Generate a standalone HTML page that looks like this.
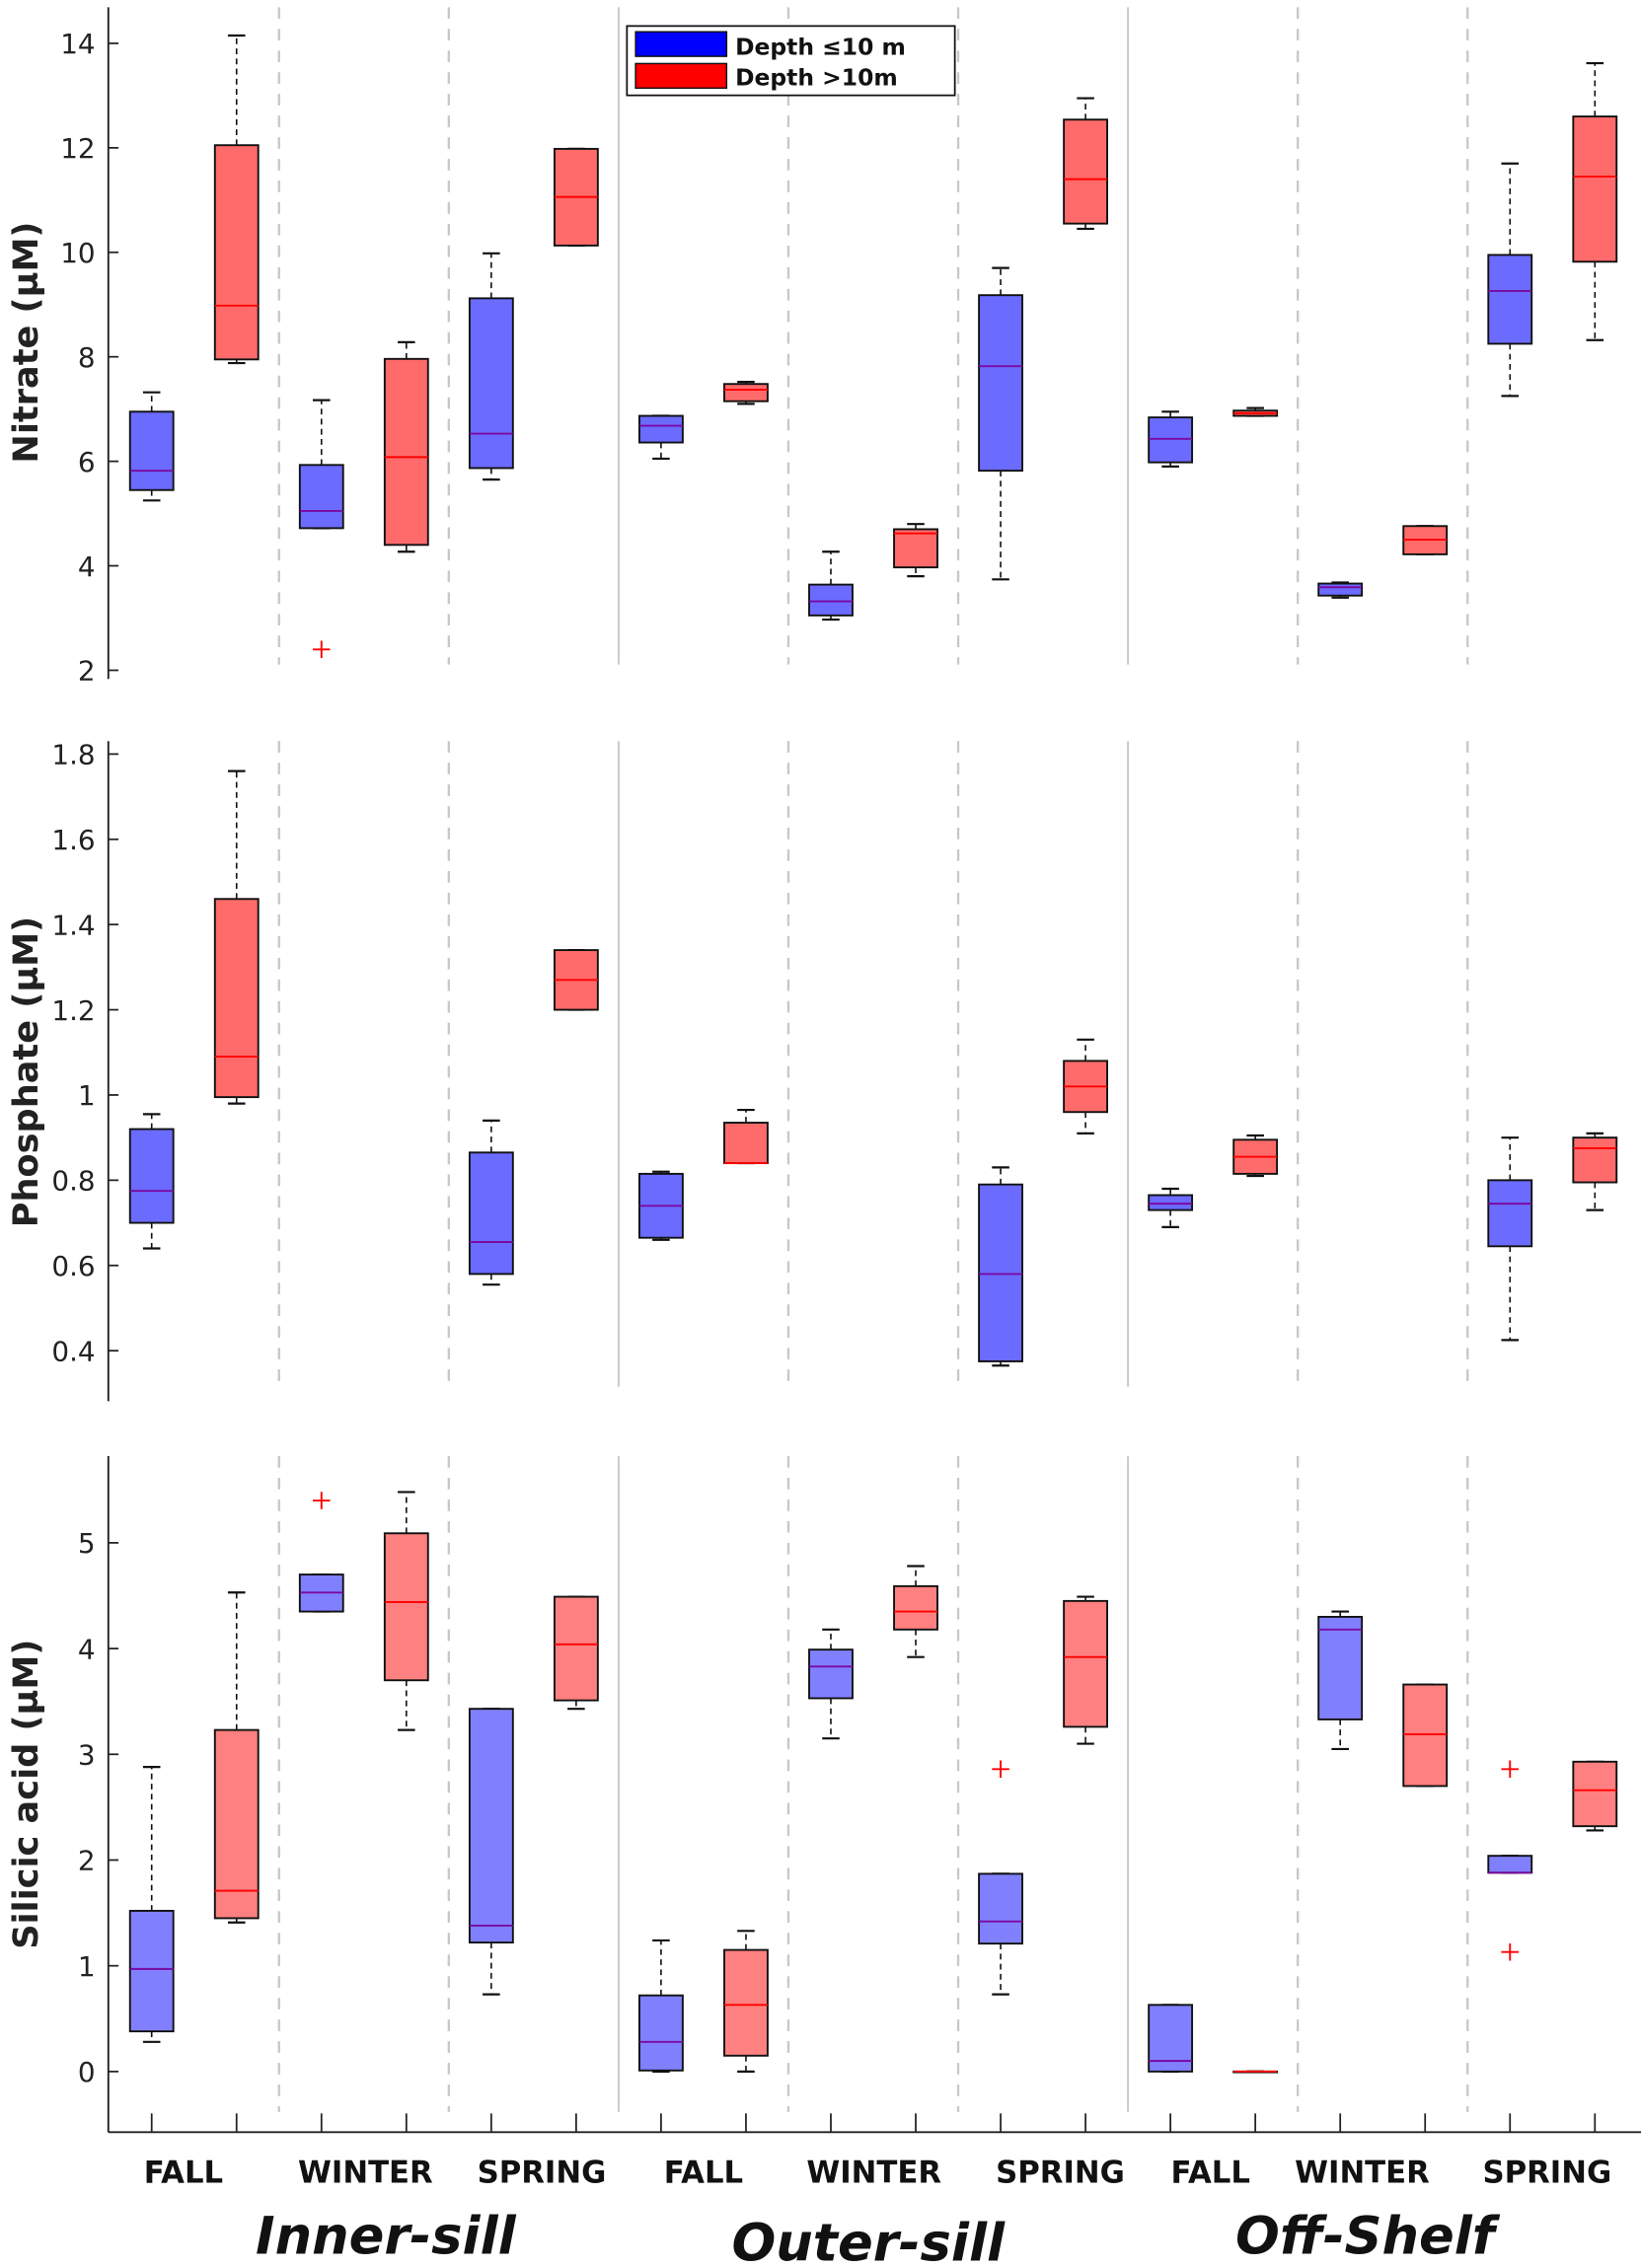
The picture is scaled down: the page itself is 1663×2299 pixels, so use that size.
<!DOCTYPE html>
<html><head><meta charset="utf-8">
<style>
html,body{margin:0;padding:0;background:#fff;}
svg{display:block;font-family:"DejaVu Sans","Liberation Sans",sans-serif;}
</style></head>
<body>
<svg id="chart" width="1663" height="2299" viewBox="0 0 1136 1570" preserveAspectRatio="none" xmlns="http://www.w3.org/2000/svg">
</svg>
<script>
// categories: 18 boxes (site x season x depth)
const sites = ["Inner-sill","Outer-sill","Off-Shelf"];
const seasons = ["FALL","WINTER","SPRING"];
const depths = ["shallow","deep"];
// [min, q1, median, q3, max] per box; null = no data
const nitrateStats = [
 [5.25,5.45,5.82,6.95,7.32],[7.88,7.95,8.98,12.05,14.15],
 [4.72,4.72,5.05,5.93,7.17],[4.27,4.4,6.08,7.96,8.28],
 [5.65,5.87,6.53,9.12,9.98],[10.13,10.13,11.06,11.98,11.98],
 [6.05,6.36,6.68,6.87,6.87],[7.1,7.15,7.37,7.48,7.52],
 [2.97,3.05,3.32,3.64,4.27],[3.8,3.97,4.62,4.7,4.8],
 [3.74,5.82,7.82,9.18,9.7],[10.45,10.55,11.4,12.54,12.95],
 [5.9,5.98,6.43,6.84,6.95],[6.87,6.87,6.92,6.97,7.02],
 [3.39,3.43,3.59,3.66,3.68],[4.22,4.22,4.5,4.76,4.76],
 [7.25,8.25,9.26,9.95,11.7],[8.32,9.82,11.45,12.6,13.62]];
const nitrateOutliers = [[],[],[2.4],[],[],[],[],[],[],[],[],[],[],[],[],[],[],[]];
const phosphateStats = [
 [0.64,0.70,0.775,0.92,0.955],[0.98,0.995,1.09,1.46,1.76],
 null,null,
 [0.555,0.58,0.655,0.865,0.94],[1.2,1.2,1.27,1.34,1.34],
 [0.66,0.665,0.74,0.815,0.82],[0.84,0.84,0.84,0.935,0.965],
 null,null,
 [0.365,0.375,0.58,0.79,0.83],[0.91,0.96,1.02,1.08,1.13],
 [0.69,0.73,0.745,0.765,0.78],[0.81,0.815,0.855,0.895,0.905],
 null,null,
 [0.425,0.645,0.745,0.8,0.9],[0.73,0.795,0.875,0.9,0.91]];
const phosphateOutliers = [[],[],[],[],[],[],[],[],[],[],[],[],[],[],[],[],[],[]];
const silicicStats = [
 [0.28,0.38,0.97,1.52,2.88],[1.41,1.45,1.71,3.23,4.53],
 [4.35,4.35,4.53,4.7,4.7],[3.23,3.7,4.44,5.09,5.48],
 [0.73,1.22,1.38,3.43,3.43],[3.43,3.51,4.04,4.49,4.49],
 [0,0.01,0.28,0.72,1.24],[0,0.15,0.63,1.15,1.33],
 [3.15,3.53,3.83,3.99,4.18],[3.92,4.18,4.35,4.59,4.78],
 [0.73,1.21,1.42,1.87,1.87],[3.1,3.26,3.92,4.45,4.49],
 [0,0,0.1,0.63,0.63],[0,0,0,0,0],
 [3.05,3.33,4.18,4.3,4.35],[2.7,2.7,3.19,3.66,3.66],
 [1.88,1.88,1.88,2.04,2.04],[2.28,2.32,2.66,2.93,2.93]];
const silicicOutliers = [[],[],[5.4],[],[],[],[],[],[],[],[2.86],[],[],[],[],[],[2.86,1.13],[]];
const nitrateTicks = [2,4,6,8,10,12,14];
const phosphateTicks = [0.4,0.6,0.8,1,1.2,1.4,1.6,1.8];
const silicicTicks = [0,1,2,3,4,5];

const NS="http://www.w3.org/2000/svg";
const svg=document.getElementById('chart');
function el(tag,attrs,parent){const e=document.createElementNS(NS,tag);for(const k in attrs)e.setAttribute(k,attrs[k]);(parent||svg).appendChild(e);return e;}

const X0=105, DX=58.77, HW=15;
function xPos(i){return X0+i*DX;}

const panels=[
 {name:'nitrate',stats:nitrateStats,out:nitrateOutliers,ticks:nitrateTicks,fmt:v=>String(v),v0:2,y0:464,v1:14,y1:30,top:5,bot:470,label:'Nitrate (µM)',ly:237,blue:'#6b6bff',red:'#ff6b6b'},
 {name:'phosphate',stats:phosphateStats,out:phosphateOutliers,ticks:phosphateTicks,fmt:v=>String(v),v0:0.4,y0:935,v1:1.8,y1:522,top:513,bot:970,label:'Phosphate (µM)',ly:742,blue:'#6b6bff',red:'#ff6b6b'},
 {name:'silicic',stats:silicicStats,out:silicicOutliers,ticks:silicicTicks,fmt:v=>String(v),v0:0,y0:1434,v1:5,y1:1068,top:1008,bot:1476,label:'Silicic acid (µM)',ly:1242,blue:'#8080ff',red:'#ff8080'}
];

panels.forEach((p,pi)=>{
  const g=el('g',{});
  
  
  const y=v=>p.y0+(v-p.v0)*(p.y1-p.y0)/(p.v1-p.v0);
  // dividers
  for(let k=1;k<9;k++){
    const xm=(xPos(2*k-1)+xPos(2*k))/2;
    const solid=(k%3===0);
    const ln=el('line',{x1:xm,x2:xm,y1:p.top,y2:(pi===2?1462:p.bot-10),stroke:'#c8c8c8','stroke-width':solid?1.3:1.6,'stroke-dasharray':solid?'none':'8,7'},g);
    
    
  }
  // y axis
  const ax=el('line',{x1:75,x2:75,y1:p.top,y2:p.bot,stroke:'#222','stroke-width':1.3},g);
  
  
  p.ticks.forEach(t=>{
    const ty=y(t);
    el('line',{x1:75,x2:82,y1:ty,y2:ty,stroke:'#222','stroke-width':1.2},g);
    const tx=el('text',{x:66,y:ty+7,'text-anchor':'end','font-size':19,fill:'#222'},g);
    tx.textContent=p.fmt(t);
    
    
  });
  const lab=el('text',{x:0,y:0,transform:`translate(26,${p.ly}) rotate(-90)`,'text-anchor':'middle','font-size':24,'font-weight':'bold',fill:'#222'},g);
  lab.textContent=p.label;
  
  
  // boxes
  p.stats.forEach((s,i)=>{
    const cx=xPos(i);
    const deep=i%2===1;
    if(s){
      const [mn,q1,md,q3,mx]=s;
      const bg=el('g',{},g);
      
      
      el('line',{x1:cx,x2:cx,y1:y(q3),y2:y(mx),stroke:'#111','stroke-width':1.1,'stroke-dasharray':'4,3'},bg);
      el('line',{x1:cx,x2:cx,y1:y(q1),y2:y(mn),stroke:'#111','stroke-width':1.1,'stroke-dasharray':'4,3'},bg);
      el('line',{x1:cx-6,x2:cx+6,y1:y(mx),y2:y(mx),stroke:'#111','stroke-width':1.5},bg);
      el('line',{x1:cx-6,x2:cx+6,y1:y(mn),y2:y(mn),stroke:'#111','stroke-width':1.5},bg);
      el('rect',{x:cx-HW,y:y(q3),width:2*HW,height:Math.max(0.5,y(q1)-y(q3)),fill:deep?p.red:p.blue,stroke:'#111','stroke-width':1.3},bg);
      el('line',{x1:cx-HW,x2:cx+HW,y1:y(md),y2:y(md),stroke:deep?'#ff0000':'#7a0aa0','stroke-width':1.3},bg);
    }
    p.out[i].forEach(o=>{
      const oy=y(o);
      const og=el('g',{stroke:'#ff0000','stroke-width':1.3},g);
      
      
      el('line',{x1:cx-6,x2:cx+6,y1:oy,y2:oy},og);
      el('line',{x1:cx,x2:cx,y1:oy-6,y2:oy+6},og);
    });
  });
});

// bottom x axis
const xa=el('line',{x1:75,x2:1136,y1:1476,y2:1476,stroke:'#222','stroke-width':1.3});


for(let i=0;i<18;i++){el('line',{x1:xPos(i),x2:xPos(i),y1:1476,y2:1463,stroke:'#222','stroke-width':1.2});}
const seasonX=[127,253,375,487,605,734,838,943,1071];
for(let k=0;k<9;k++){
  const t=el('text',{x:seasonX[k],y:1511,'text-anchor':'middle','font-size':21,'font-weight':'bold',fill:'#111'});
  t.textContent=seasons[k%3];
  
  
}
const siteX=[267,601,945], siteY=[1560,1565,1560];
for(let k=0;k<3;k++){
  const t=el('text',{x:siteX[k],y:siteY[k],'text-anchor':'middle','font-size':36,'font-weight':'bold','font-style':'italic',fill:'#111'});
  t.textContent=sites[k];
  
  
}
// legend
const lg=el('g',{});


el('rect',{x:434,y:18,width:227,height:48,fill:'#fff',stroke:'#111','stroke-width':1.2},lg);
el('rect',{x:440,y:22,width:63,height:17,fill:'#0000ff',stroke:'#111','stroke-width':1},lg);
el('rect',{x:440,y:44,width:63,height:17,fill:'#ff0000',stroke:'#111','stroke-width':1},lg);
const l1=el('text',{x:509,y:38,'font-size':16,'font-weight':'bold',fill:'#111'},lg);
l1.textContent='Depth ≤10 m';


const l2=el('text',{x:509,y:59,'font-size':16,'font-weight':'bold',fill:'#111'},lg);
l2.textContent='Depth >10m';


</script>
</body></html>
